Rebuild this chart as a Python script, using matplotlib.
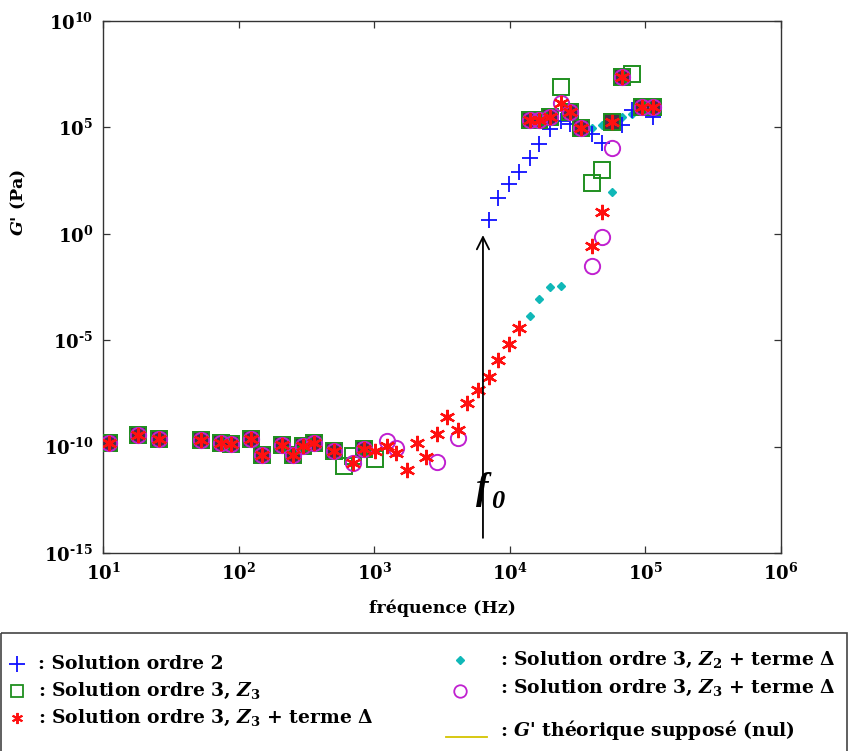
import numpy as np
import matplotlib
matplotlib.use("Agg")
import matplotlib.pyplot as plt
from matplotlib.patches import Rectangle
from matplotlib.transforms import offset_copy

plt.rcParams['font.family'] = ['DejaVu Serif']
plt.rcParams['font.weight'] = 'bold'
plt.rcParams['mathtext.fontset'] = 'custom'
plt.rcParams['mathtext.rm'] = 'DejaVu Serif:bold'
plt.rcParams['mathtext.bf'] = 'DejaVu Serif:bold'
plt.rcParams['mathtext.it'] = 'DejaVu Serif:italic:bold'

# ---------------- data (frequency in Hz, G' as log10 exponent) ----------------
common_f = [11, 18, 26, 53, 74, 88, 123, 149, 209, 252, 299, 360, 505]
common_lg = [-9.81, -9.44, -9.62, -9.67, -9.81, -9.86, -9.62, -10.38, -9.91, -10.38, -9.95, -9.81, -10.19]

sq_f = [599, 698, 841, 1014, 14090, 16550, 19770, 23860, 27800, 33500, 40100, 47860,
        56740, 67200, 80100, 94400, 113800]
sq_lg = [-10.89, -10.42, -10.09, -10.56, 5.34, 5.34, 5.48, 6.89, 5.72, 4.96, 2.38, 2.99,
         5.25, 7.36, 7.51, 5.95, 5.95]

star_f = [698, 841, 1014, 1243, 1448, 1746, 2070, 2412, 2906, 3467, 4150, 4833, 5826, 6970,
          8185, 9790, 11770, 14090, 16550, 19770, 23860, 27800, 33500, 40100, 47860, 56740,
          67200, 94400, 113800]
star_lg = [-10.75, -10.09, -10.19, -9.95, -10.28, -11.08, -9.81, -10.47, -9.39, -8.59, -9.20,
           -7.93, -7.36, -6.71, -5.91, -5.20, -4.45, 5.34, 5.34, 5.48, 6.14, 5.72, 4.96, -0.59,
           1.01, 5.25, 7.36, 5.95, 5.95]

circ_f = [698, 841, 1243, 1448, 2906, 4150, 14090, 16550, 19770, 23860, 27800, 33500, 40100,
          47860, 56740, 67200, 94400, 113800]
circ_lg = [-10.75, -10.09, -9.76, -10.05, -10.71, -9.58, 5.34, 5.34, 5.48, 6.14, 5.72, 4.96,
           -1.53, -0.16, 4.02, 7.36, 5.95, 5.95]

plus_f = [6970, 8185, 9790, 11770, 14090, 16550, 19770, 23860, 27800, 33500, 40100, 47860,
          67200, 80100, 94400, 113800]
plus_lg = [0.64, 1.67, 2.33, 2.89, 3.55, 4.21, 4.92, 5.29, 5.15, 4.96, 4.68, 4.26,
           5.11, 5.81, 5.90, 5.50]

cyan_f = [14090, 16550, 19770, 23860, 40100, 47860, 56740, 67200, 80100, 94400, 113800]
cyan_lg = [-3.84, -3.08, -2.52, -2.47, 4.96, 5.11, 1.95, 5.48, 5.62, 5.80, 5.67]

xticks = [1e1, 1e2, 1e3, 1e4, 1e5, 1e6]
xtick_labels = [r'$10^{1}$', r'$10^{2}$', r'$10^{3}$', r'$10^{4}$', r'$10^{5}$', r'$10^{6}$']
yticks = [1e-15, 1e-10, 1e-5, 1e0, 1e5, 1e10]
ytick_labels = [r'$10^{\text{-15}}$', r'$10^{\text{-10}}$', r'$10^{\text{-5}}$',
                r'$10^{0}$', r'$10^{5}$', r'$10^{10}$']

f0_freq = 6340
arrow_from, arrow_to = 10 ** -14.42, 10 ** 0.07
f0_text_y = 10 ** -12.0

# ---------------- build series ----------------
def G(lg):
    return 10.0 ** np.asarray(lg, dtype=float)

sqx = np.array(common_f + sq_f, float); sqy = G(common_lg + sq_lg)
stx = np.array(common_f + star_f, float); sty = G(common_lg + star_lg)
cix = np.array(common_f + circ_f, float); ciy = G(common_lg + circ_lg)
plx = np.array(plus_f, float); ply = G(plus_lg)
cyx = np.array(common_f + cyan_f, float); cyy = G(common_lg + cyan_lg)

# points where square and star coincide (rendered as dark filled squares)
ov_x, ov_y = [], []
for x, y in zip(sqx, sqy):
    m = np.isclose(stx, x) & np.isclose(np.log10(sty), np.log10(y))
    if m.any():
        ov_x.append(x); ov_y.append(y)

C_BLUE = '#1010ff'
C_GREEN = '#1f8f1f'
C_RED = '#ff1010'
C_MAG = '#c020d0'
C_CYAN = '#10b8b8'
C_DARK = '#4a2e48'

fig = plt.figure(figsize=(8.49, 7.51), dpi=100)
ax = fig.add_axes([103 / 849, 1 - 553 / 751, (781 - 103) / 849, (553 - 21) / 751])
ax.set_xscale('log')
ax.set_yscale('log')
ax.set_xlim(1e1, 1e6)
ax.set_ylim(1e-15, 1e10)

ax.plot(cyx, cyy, ls='none', marker='D', ms=4, mfc=C_CYAN, mec=C_CYAN, zorder=3)
ax.plot(plx, ply, ls='none', marker='+', ms=11, mew=1.3, color=C_BLUE, zorder=3)
ax.plot(ov_x, ov_y, ls='none', marker='s', ms=11, mfc=C_DARK, mec=C_GREEN, mew=1.2, zorder=4)
ax.plot(sqx, sqy, ls='none', marker='s', ms=11, mfc='none', mec=C_GREEN, mew=1.4, zorder=4)
ax.plot(cix, ciy, ls='none', marker='o', ms=11, mfc='none', mec=C_MAG, mew=1.4, zorder=5)
ax.plot(stx, sty, ls='none', marker=(6, 2, 0), ms=11, color=C_RED, mew=1.6, zorder=6)
ax.plot(stx, sty, ls='none', marker='o', ms=4, color=C_RED, zorder=6)

ax.annotate('', xy=(f0_freq, arrow_to), xytext=(f0_freq, arrow_from),
            arrowprops=dict(arrowstyle='->', color='black', lw=1.3, mutation_scale=22),
            zorder=7)
ax.text(f0_freq * 0.99, f0_text_y, 'f', fontsize=27, family='Liberation Serif',
        fontstyle='italic', fontweight='bold', ha='center', va='center', zorder=8)
sub_tr = offset_copy(ax.transData, fig=fig, x=11, y=-9, units='points')
ax.text(f0_freq * 0.99, f0_text_y, '0', fontsize=19, family='Liberation Serif',
        fontstyle='italic', fontweight='bold', ha='center', va='center', zorder=8,
        transform=sub_tr)

ax.set_xticks(xticks)
ax.set_xticklabels(xtick_labels)
ax.set_yticks(yticks)
ax.set_yticklabels(ytick_labels)
ax.minorticks_off()
ax.tick_params(direction='in', length=5, width=0.9, top=True, right=True,
               labelsize=13, colors='#333333', labelcolor='black')
ax.tick_params(axis='x', pad=7)
ax.tick_params(axis='y', pad=7)
for s in ax.spines.values():
    s.set_color('#333333')
    s.set_linewidth(1.0)

ax.set_xlabel('fréquence (Hz)', fontsize=12.5, fontweight='bold')
ax.xaxis.set_label_coords(0.5, -0.087)
ax.set_ylabel(r"$\mathit{G}$' (Pa)", fontsize=12.5, fontweight='bold')
ax.yaxis.set_label_coords(-0.11, 0.66)

# ---------------- legend panel ----------------
lg = fig.add_axes([0, 0, 1, 1], facecolor='none')
lg.set_xlim(0, 849)
lg.set_ylim(751, 0)
lg.axis('off')
lg.add_patch(Rectangle((1, 633), 846, 130, fill=False, ec='#444444', lw=1.2, clip_on=False))

fs = 13.5
lg.plot([17], [664], ls='none', marker='+', ms=11, mew=1.3, color=C_BLUE)
lg.text(38, 664, ': Solution ordre 2', fontsize=fs, va='center', ha='left')
lg.plot([17], [691], ls='none', marker='s', ms=8, mfc='none', mec=C_GREEN, mew=1.3)
lg.text(38, 691, r': Solution ordre 3, $\mathit{Z}_{3}$', fontsize=fs, va='center', ha='left')
lg.plot([17], [718], ls='none', marker=(6, 2, 0), ms=8, color=C_RED, mew=1.4)
lg.plot([17], [718], ls='none', marker='o', ms=3, color=C_RED)
lg.text(38, 718, r': Solution ordre 3, $\mathit{Z}_{3}$ + terme Δ', fontsize=fs,
        va='center', ha='left')

lg.plot([460], [660], ls='none', marker='D', ms=4, mfc=C_CYAN, mec=C_CYAN)
lg.text(500, 660, r': Solution ordre 3, $\mathit{Z}_{2}$ + terme Δ', fontsize=fs,
        va='center', ha='left')
lg.plot([460], [691], ls='none', marker='o', ms=9, mfc='none', mec=C_MAG, mew=1.3)
lg.text(500, 688, r': Solution ordre 3, $\mathit{Z}_{3}$ + terme Δ', fontsize=fs,
        va='center', ha='left')
lg.plot([446, 487], [737, 737], color='#d4c400', lw=1.3)
lg.text(500, 730, r": $\mathit{G}$' théorique supposé (nul)", fontsize=fs,
        va='center', ha='left')

fig.savefig('out.png', dpi=100)
